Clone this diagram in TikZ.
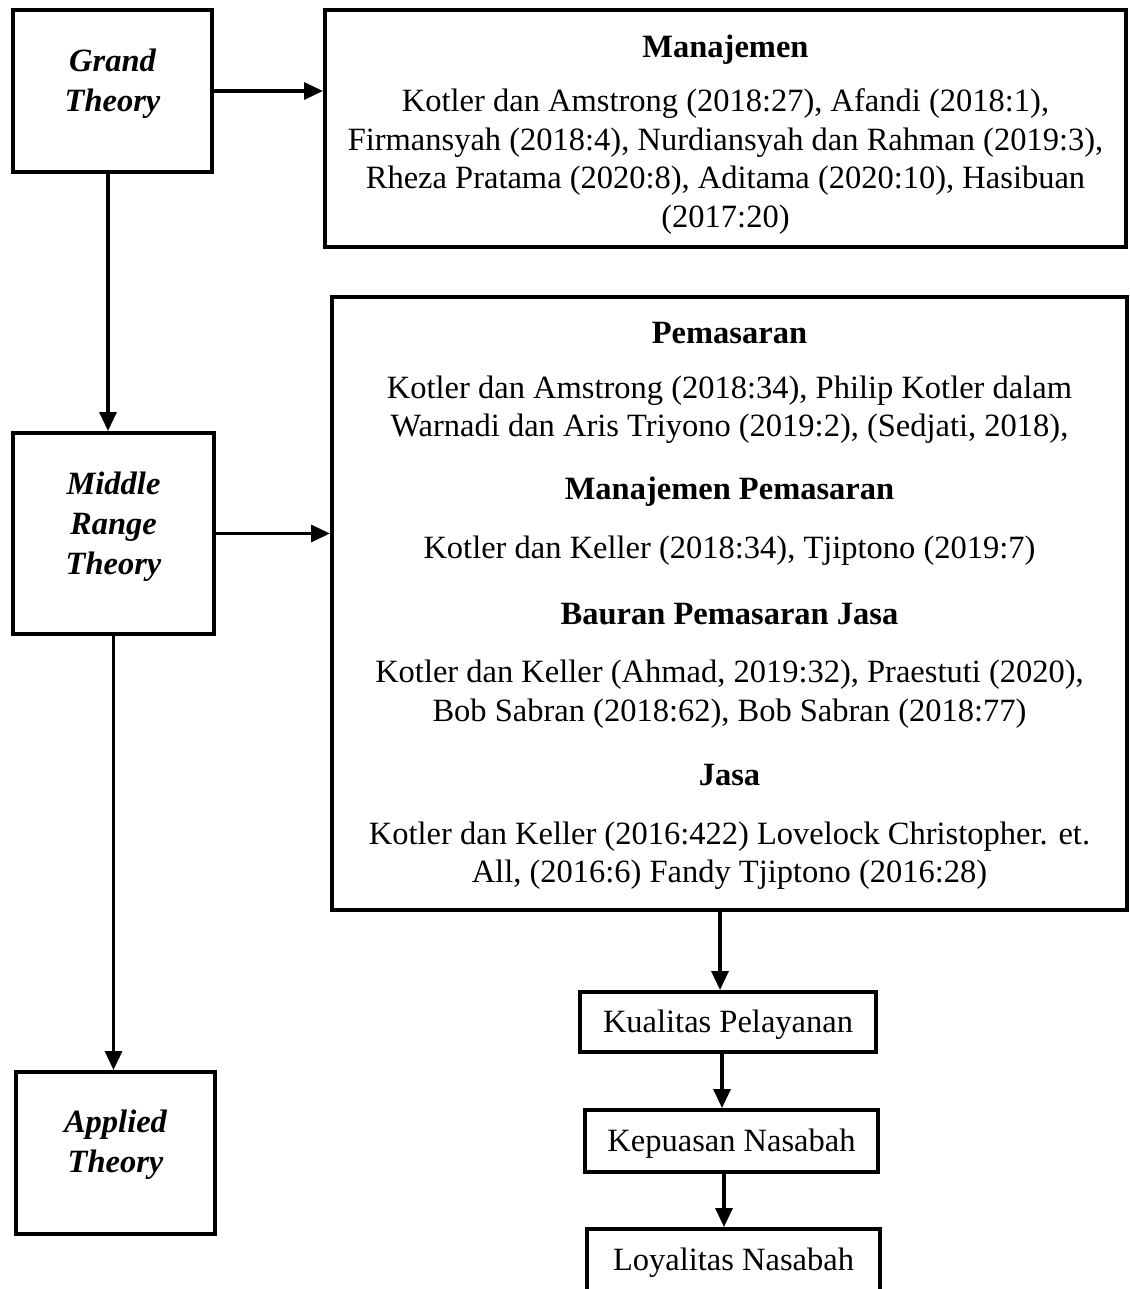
\documentclass[tikz,border=0pt]{standalone}
\usepackage{fontspec}
\setmainfont{Liberation Serif}
\usetikzlibrary{arrows.meta}
\begin{document}
\begin{tikzpicture}[x=1pt,y=-1pt,
  box/.style={draw, line width=4pt, rectangle, inner sep=0pt},
  txt/.style={align=center, inner sep=0pt, yshift=-3pt, font=\fontsize{32.5}{38.5}\selectfont},
  head/.style={txt, font=\fontsize{32.5}{38.5}\selectfont\bfseries},
  theo/.style={txt, font=\fontsize{32.5}{40}\selectfont\bfseries\itshape},
  arr/.style={line width=3.3pt, -{Triangle[length=19pt,width=17pt]}}]
\path[use as bounding box, fill=white] (0,0) rectangle (1129,1289);

% boxes
\node[box, minimum width=199pt, minimum height=162pt] (grand) at (112.5,91) {};
\node[box, minimum width=801pt, minimum height=237pt] (manaj) at (725.5,128.5) {};
\node[box, minimum width=201pt, minimum height=201pt] (mid) at (113.5,533.5) {};
\node[box, minimum width=795pt, minimum height=613pt] (big) at (729.5,603.5) {};
\node[box, minimum width=199pt, minimum height=162pt] (app) at (115.5,1153) {};
\node[box, minimum width=296pt, minimum height=60pt] (kual) at (728,1022) {};
\node[box, minimum width=293pt, minimum height=62pt] (kep) at (731.5,1141) {};
\node[box, minimum width=293pt, minimum height=82pt] (loy) at (733.5,1270) {};

% left texts
\node[theo] (gt) at (112.5,81) {Grand\\Theory};
\node[theo] (mt) at (113.5,524) {Middle\\Range\\Theory};
\node[theo] (at) at (115.5,1142) {Applied\\Theory};

% Manajemen box texts
\node[head] (h1) at (725.5,47) {Manajemen};
\node[txt] (t1) at (725.5,158.5) {Kotler dan Amstrong (2018:27), Afandi (2018:1),\\
Firmansyah (2018:4), Nurdiansyah dan Rahman (2019:3),\\
Rheza Pratama (2020:8), Aditama (2020:10), Hasibuan\\
(2017:20)};

% big box texts
\node[head] (h2) at (729.5,330) {Pemasaran};
\node[txt] (t2) at (729.5,406.5) {Kotler dan Amstrong (2018:34), Philip Kotler dalam\\
Warnadi dan Aris Triyono (2019:2), (Sedjati, 2018),};
\node[head] (h3) at (729.5,489) {Manajemen Pemasaran};
\node[txt] (t3) at (729.5,548) {Kotler dan Keller (2018:34), Tjiptono (2019:7)};
\node[head] (h4) at (729.5,611) {Bauran Pemasaran Jasa};
\node[txt] (t4) at (729.5,691) {Kotler dan Keller (Ahmad, 2019:32), Praestuti (2020),\\
Bob Sabran (2018:62), Bob Sabran (2018:77)};
\node[head] (h5) at (729.5,772) {Jasa};
\node[txt] (t5) at (729.5,852.5) {Kotler dan Keller (2016:422) Lovelock Christopher. et.\\
All, (2016:6) Fandy Tjiptono (2016:28)};

% small box texts
\node[txt] (kt) at (728,1022) {Kualitas Pelayanan};
\node[txt] (ket) at (731.5,1141) {Kepuasan Nasabah};
\node[txt] (lt) at (733.5,1260) {Loyalitas Nasabah};

% connectors
\draw[arr] (grand.east) -- (manaj.west |- grand.east);
\draw[arr] (grand.south -| 108,0) -- (mid.north -| 108,0);
\draw[arr] (mid.east) -- (big.west |- mid.east);
\draw[arr] (mid.south) -- (app.north -| mid.south);
\coordinate (bs) at (720,910);
\draw[arr] (bs) -- (bs |- kual.north);
\draw[arr] ([yshift=4pt]kual.south -| 722,0) -- (kep.north -| 722,0);
\draw[arr] ([yshift=4pt]kep.south -| 724,0) -- (loy.north -| 724,0);
\end{tikzpicture}
\end{document}
